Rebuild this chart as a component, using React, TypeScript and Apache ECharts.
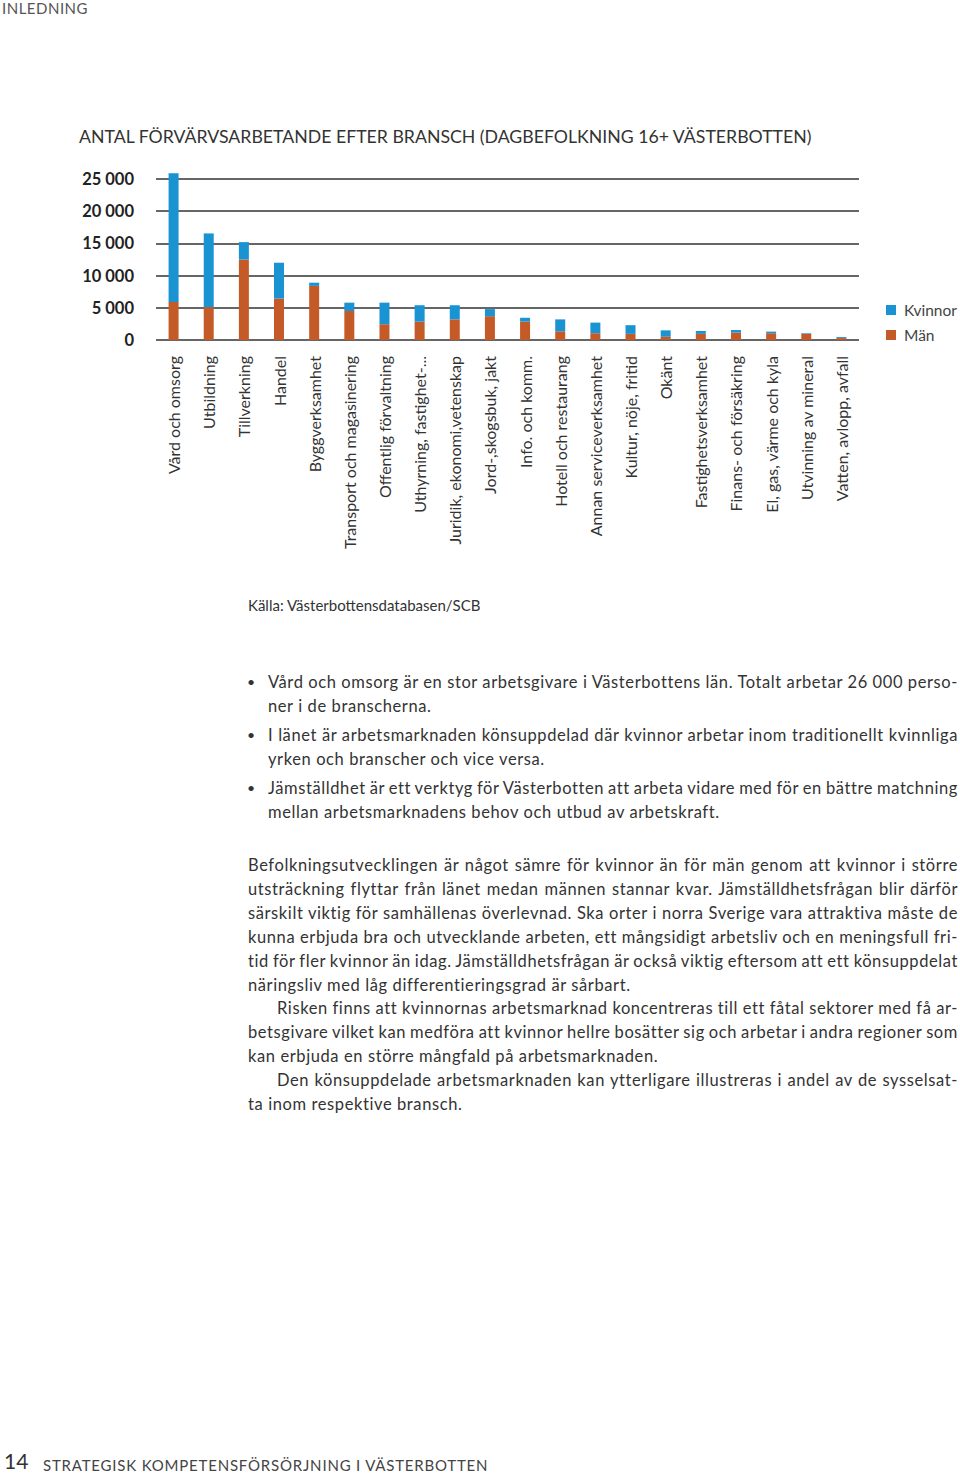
import React, { useEffect, useLayoutEffect, useRef, useState } from "react";
import * as echarts from "echarts";

const categories = [
  "Vård och omsorg",
  "Utbildning",
  "Tillverkning",
  "Handel",
  "Byggverksamhet",
  "Transport och magasinering",
  "Offentlig förvaltning",
  "Uthyrning, fastighet-...",
  "Juridik, ekonomi,vetenskap",
  "Jord-,skogsbuk, jakt",
  "Info. och komm.",
  "Hotell och restaurang",
  "Annan serviceverksamhet",
  "Kultur, nöje, fritid",
  "Okänt",
  "Fastighetsverksamhet",
  "Finans- och försäkring",
  "El, gas, värme och kyla",
  "Utvinning av mineral",
  "Vatten, avlopp, avfall",
];

const man = [5900, 5100, 12500, 6450, 8400, 4500, 2450, 2850, 3200, 3700, 2850, 1350, 1050, 950, 500, 950, 1150, 1050, 950, 300];
const kvinnor = [20000, 11450, 2700, 5550, 500, 1300, 3350, 2550, 2200, 1100, 600, 1850, 1650, 1350, 1000, 450, 400, 250, 100, 150];

const yTicks = [0, 5000, 10000, 15000, 20000, 25000];

const title = "ANTAL FÖRVÄRVSARBETANDE EFTER BRANSCH (DAGBEFOLKNING 16+ VÄSTERBOTTEN)";
const source = "Källa: Västerbottensdatabasen/SCB";

const bullets = [
  ["Vård och omsorg är en stor arbetsgivare i Västerbottens län. Totalt arbetar 26 000 perso-", "ner i de branscherna."],
  ["I länet är arbetsmarknaden könsuppdelad där kvinnor arbetar inom traditionellt kvinnliga", "yrken och branscher och vice versa."],
  ["Jämställdhet är ett verktyg för Västerbotten att arbeta vidare med för en bättre matchning", "mellan arbetsmarknadens behov och utbud av arbetskraft."],
];

// [text, indent, justify]
const paragraph: [string, boolean, boolean][] = [
  ["Befolkningsutvecklingen är något sämre för kvinnor än för män genom att kvinnor i större", false, true],
  ["utsträckning flyttar från länet medan männen stannar kvar. Jämställdhetsfrågan blir därför", false, true],
  ["särskilt viktig för samhällenas överlevnad. Ska orter i norra Sverige vara attraktiva måste de", false, true],
  ["kunna erbjuda bra och utvecklande arbeten, ett mångsidigt arbetsliv och en meningsfull fri-", false, true],
  ["tid för fler kvinnor än idag. Jämställdhetsfrågan är också viktig eftersom att ett könsuppdelat", false, true],
  ["näringsliv med låg differentieringsgrad är sårbart.", false, false],
  ["Risken finns att kvinnornas arbetsmarknad koncentreras till ett fåtal sektorer med få ar-", true, true],
  ["betsgivare vilket kan medföra att kvinnor hellre bosätter sig och arbetar i andra regioner som", false, true],
  ["kan erbjuda en större mångfald på arbetsmarknaden.", false, false],
  ["Den könsuppdelade arbetsmarknaden kan ytterligare illustreras i andel av de sysselsat-", true, true],
  ["ta inom respektive bransch.", false, false],
];

const BLUE = "#1a93d3";
const ORANGE = "#c45a28";
const FONT = "Lato, 'Open Sans', sans-serif";

function Chart() {
  const ref = useRef<HTMLDivElement>(null);
  useEffect(() => {
    if (!ref.current) return;
    const chart = echarts.init(ref.current, undefined, { renderer: "svg" });
    chart.setOption({
      animation: false,
      textStyle: { fontFamily: FONT },
      title: {
        text: title,
        left: 74,
        top: 122,
        textStyle: { fontSize: 17.7, fontWeight: "normal", color: "#333", fontFamily: FONT },
      },
      legend: {
        orient: "vertical",
        left: 886,
        top: 302,
        padding: 0,
        itemWidth: 10,
        itemHeight: 10,
        itemGap: 9,
        icon: "rect",
        data: ["Kvinnor", "Män"],
        textStyle: { fontSize: 15.5, color: "#444", fontFamily: FONT, padding: [0, 0, 0, 3] },
      },
      grid: { left: 156, right: 101, top: 179, bottom: 620 - 340, containLabel: false },
      xAxis: {
        type: "category",
        data: categories,
        axisLine: { show: false },
        axisTick: { show: false },
        axisLabel: {
          rotate: 90,
          interval: 0,
          margin: 16,
          fontSize: 16,
          color: "#333",
          fontFamily: FONT,
        },
      },
      yAxis: {
        type: "value",
        min: 0,
        max: 25000,
        interval: 5000,
        axisLine: { show: false },
        axisTick: { show: false },
        splitLine: { lineStyle: { color: "#333", width: 1.5 } },
        axisLabel: {
          margin: 22,
          fontSize: 16.5,
          fontWeight: "bold",
          color: "#222",
          fontFamily: FONT,
          formatter: (v: number) =>
            yTicks.includes(v) ? (v === 0 ? "0" : String(v).replace(/(\d+)(\d{3})$/, "$1 $2")) : "",
        },
      },
      series: [
        {
          name: "Män",
          type: "bar",
          stack: "t",
          data: man,
          barWidth: 10,
          clip: false,
          itemStyle: { color: ORANGE },
        },
        {
          name: "Kvinnor",
          type: "bar",
          stack: "t",
          data: kvinnor,
          barWidth: 10,
          clip: false,
          itemStyle: { color: BLUE },
        },
      ],
      graphic: [
        {
          type: "text",
          left: 248,
          top: 597,
          style: { text: source, fontSize: 15, fill: "#333", fontFamily: FONT },
        },
      ],
    });
    return () => chart.dispose();
  }, []);
  return <div ref={ref} style={{ position: "absolute", left: 0, top: 0, width: 960, height: 620 }} />;
}

const BODY_SIZE = 16.5;
const BODY_LS = 0.6;

function Line({ text, left, top, width, justify }: { text: string; left: number; top: number; width: number; justify: boolean }) {
  const ref = useRef<HTMLSpanElement>(null);
  const [ws, setWs] = useState(0);
  useLayoutEffect(() => {
    if (!justify || !ref.current) return;
    const natural = ref.current.getBoundingClientRect().width;
    const spaces = (text.match(/ /g) || []).length;
    if (spaces > 0) setWs((width - natural) / spaces);
  }, []);
  return (
    <div
      style={{
        position: "absolute",
        left,
        top,
        height: 24,
        lineHeight: "24px",
        fontSize: BODY_SIZE,
        whiteSpace: "nowrap",
      }}
    >
      <span ref={ref} style={{ letterSpacing: BODY_LS, wordSpacing: ws }}>
        {text}
      </span>
    </div>
  );
}

export default function App() {
  const bulletTops = [670, 723, 776];
  return (
    <div
      style={{
        position: "absolute",
        left: 0,
        top: 0,
        width: 960,
        height: 1474,
        background: "#fff",
        fontFamily: FONT,
        color: "#333",
        overflow: "hidden",
      }}
    >
      <div style={{ position: "absolute", left: 2, top: 0, fontSize: 15, lineHeight: "16px", letterSpacing: 0.5, color: "#555" }}>
        INLEDNING
      </div>
      <Chart />
      {bullets.map((b, i) => (
        <React.Fragment key={i}>
          <div style={{ position: "absolute", left: 247, top: bulletTops[i], lineHeight: "24px", fontSize: 14 }}>•</div>
          <Line text={b[0]} left={268} top={bulletTops[i]} width={690} justify={true} />
          <Line text={b[1]} left={268} top={bulletTops[i] + 24} width={690} justify={false} />
        </React.Fragment>
      ))}
      {paragraph.map(([t, indent, j], i) => (
        <Line key={i} text={t} left={indent ? 277 : 248} top={853 + i * 23.9} width={indent ? 681 : 710} justify={j} />
      ))}
      <div style={{ position: "absolute", left: 4, top: 1448, fontSize: 21, lineHeight: 1.2, color: "#333" }}>14</div>
      <div
        style={{
          position: "absolute",
          left: 43,
          top: 1455.5,
          fontSize: 15,
          lineHeight: 1.2,
          letterSpacing: 0.8,
          color: "#444",
        }}
      >
        STRATEGISK KOMPETENSFÖRSÖRJNING I VÄSTERBOTTEN
      </div>
    </div>
  );
}
